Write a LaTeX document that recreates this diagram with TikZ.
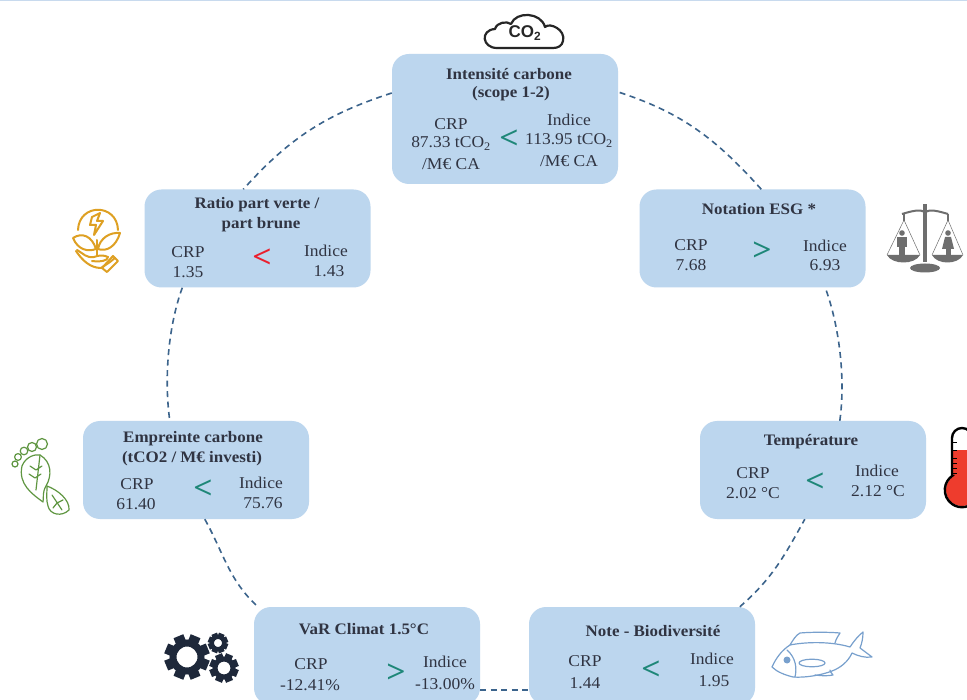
\documentclass[tikz,border=0pt]{standalone}
\usepackage{fontspec}
\setmainfont[FakeStretch=1.06]{Liberation Serif}
\setsansfont{Liberation Sans}
\definecolor{boxblue}{RGB}{188,214,238}
\definecolor{ringblue}{RGB}{60,100,140}
\definecolor{inkc}{RGB}{48,52,66}
\definecolor{tealc}{RGB}{30,135,120}
\definecolor{redc}{RGB}{235,30,45}
\definecolor{orangec}{RGB}{222,160,35}
\definecolor{greenc}{RGB}{95,150,65}
\definecolor{greyc}{RGB}{110,110,110}
\definecolor{fishc}{RGB}{120,160,205}
\definecolor{topc}{RGB}{200,218,238}
\definecolor{thermoc}{RGB}{238,60,45}
\definecolor{gearc}{RGB}{30,40,58}
\newcommand{\mygear}[5]{%
  \draw[line width=#4pt,fill=none] (#1,#2) circle[radius=#3];
  \foreach \a in {0,45,...,315}{
    \fill[shift={(#1,#2)},rotate=\a+22.5] (-#4pt*0.75,-#3pt-#4pt*0.5-#5pt) rectangle (#4pt*0.75,-#3pt);
  }}
\tikzset{
  x=1pt,y=-1pt,
  cardbox/.style={fill=boxblue,draw=none,rounded corners=17pt,minimum width=226pt,minimum height=98pt,inner sep=0pt},
  cardtxt/.style={text=inkc,font=\fontsize{16.5}{18}\selectfont,inner sep=0pt,yshift=-.8pt},
  cardhead/.style={text=inkc,font=\fontsize{16}{18}\selectfont\bfseries,inner sep=0pt,yshift=-.8pt},
  cmpmark/.style={font=\fontsize{32}{32}\selectfont\bfseries,inner sep=0pt},
  ringline/.style={draw=ringblue,line width=1.6pt,dash pattern=on 6pt off 4.5pt},
}
\begin{document}
\begin{tikzpicture}
\useasboundingbox (0,0) rectangle (967,700);
\begin{scope}
\clip (0,0) rectangle (967,700);
\fill[white] (0,0) rectangle (967,700);
\fill[topc] (0,0) rectangle (967,1.5);

% boxes
\node[cardbox,minimum height=130pt] (top) at (505,119) {};
\node[cardbox] (ratio) at (257.5,238.5) {};
\node[cardbox] (esg) at (752.5,238.5) {};
\node[cardbox] (emp) at (196,470) {};
\node[cardbox] (tmp) at (813,470) {};
\node[cardbox] (var) at (367,656) {};
\node[cardbox] (bio) at (642,656) {};

% connectors
\draw[ringline] ([yshift=26pt]top.west) to[out=198,in=48] ([xshift=99pt]ratio.north west);
\draw[ringline] ([xshift=38pt]ratio.south west) to[out=250,in=98,looseness=.8] ([xshift=87pt]emp.north west);
\draw[ringline] ([xshift=122pt]emp.south west) to[out=299,in=137] ([xshift=4pt]var.north west);
\draw[ringline] ([yshift=-34pt]var.east) -- ([yshift=-34pt]bio.west);
\draw[ringline] ([xshift=211pt]bio.north west) to[out=41,in=241] ([xshift=105pt]tmp.south west);
\draw[ringline] ([xshift=140pt]tmp.north west) to[out=82,in=290,looseness=.8] ([xshift=186pt]esg.south west);
\draw[ringline] ([xshift=122pt]esg.north west) to[out=132,in=342] ([yshift=27pt]top.east);

% top box text
\node[cardhead] (t1) at (509,73) {Intensité carbone};
\node[cardhead] (t2) at (511,93) {(scope 1-2)};
\node[cardtxt] (t3) at (451,123) {CRP};
\node[cardtxt] (t4) at (451,143) {87.33 tCO\textsubscript{2}};
\node[cardtxt] (t5) at (451,163) {/M€ CA};
\node[cmpmark,text=tealc] (t6) at (509,139) {<};
\node[cardtxt] (t7) at (569,119) {Indice};
\node[cardtxt] (t8) at (569,140) {113.95 tCO\textsubscript{2}};
\node[cardtxt] (t9) at (569,160) {/M€ CA};

% ratio
\node[cardhead] (r1) at (257,204) {Ratio part verte /};
\node[cardhead] (r2) at (261,224) {part brune};
\node[cardtxt] (r3) at (188,251) {CRP};
\node[cardtxt] (r4) at (188,271) {1.35};
\node[cmpmark,text=redc] (r5) at (262,258) {<};
\node[cardtxt] (r6) at (326,250) {Indice};
\node[cardtxt] (r7) at (329,270) {1.43};

% empreinte
\node[cardhead] (e1) at (193,438) {Empreinte carbone};
\node[cardhead] (e2) at (192,458) {(tCO2 / M€ investi)};
\node[cardtxt] (e3) at (137,483) {CRP};
\node[cardtxt] (e4) at (136,503) {61.40};
\node[cmpmark,text=tealc] (e5) at (203,489) {<};
\node[cardtxt] (e6) at (261,482) {Indice};
\node[cardtxt] (e7) at (263,502) {75.76};

% esg
\node[cardhead] (n1) at (759,208) {Notation ESG *};
\node[cardtxt] (n2) at (691,244) {CRP};
\node[cardtxt] (n3) at (691,264) {7.68};
\node[cmpmark,text=tealc] (n4) at (762,251) {>};
\node[cardtxt] (n5) at (825,245) {Indice};
\node[cardtxt] (n6) at (825,264) {6.93};

% temperature
\node[cardhead] (m1) at (811,441) {Température};
\node[cardtxt] (m2) at (753,472) {CRP};
\node[cardtxt] (m3) at (753,492) {2.02 °C};
\node[cmpmark,text=tealc] (m4) at (815,482) {<};
\node[cardtxt] (m5) at (877,470) {Indice};
\node[cardtxt] (m6) at (878,490) {2.12 °C};

% var
\node[cardhead] (v1) at (364,628) {VaR Climat 1.5°C};
\node[cardtxt] (v2) at (311,663) {CRP};
\node[cardtxt] (v3) at (310,684) {-12.41\%};
\node[cmpmark,text=tealc] (v4) at (396,673) {>};
\node[cardtxt] (v5) at (445,661) {Indice};
\node[cardtxt] (v6) at (445,683) {-13.00\%};

% bio
\node[cardhead] (b1) at (653,630) {Note - Biodiversité};
\node[cardtxt] (b2) at (585,660) {CRP};
\node[cardtxt] (b3) at (585,682) {1.44};
\node[cmpmark,text=tealc] (b4) at (651,670) {<};
\node[cardtxt] (b5) at (712,658) {Indice};
\node[cardtxt] (b6) at (714,680) {1.95};

% cloud icon
\draw[line width=2.2pt,black!85,line join=round]
  (497,48) .. controls (482,48) and (480,30) .. (495,29)
  .. controls (497,22) and (507,21) .. (511,24)
  .. controls (516,11) and (541,12) .. (545,27)
  .. controls (550,22) and (566,30) .. (563,41)
  .. controls (562,46) and (558,48) .. (553,48) -- cycle;
\node[inner sep=0pt,font=\sffamily\bfseries\fontsize{17}{17}\selectfont,text=black!85] (co2) at (525,33) {CO\textsubscript{2}};

% plant icon
\begin{scope}[draw=orangec,line width=2pt,line join=round,line cap=round]
\draw (78,230) .. controls (79,203) and (117,203) .. (118,230);
\draw (92,217) -- (100,213) -- (97,221) -- (103,221) -- (94,235) -- (96,225) -- (90,225) -- cycle;
\draw (97,240) -- (97,256);
\draw (96,249) .. controls (92,236) and (82,232) .. (73,238) .. controls (78,250) and (88,252) .. (96,249) -- cycle;
\draw (98,249) .. controls (100,238) and (110,232) .. (120,233) .. controls (116,247) and (106,252) .. (98,249) -- cycle;
\draw (77,250) .. controls (84,254) and (86,258) .. (94,257) .. controls (99,255) and (104,255) .. (108,257)
   .. controls (108,261) and (100,262) .. (92,261);
\draw (76,251) .. controls (82,260) and (90,268) .. (101,268) -- (110,262) -- (115,258);
\draw (113,256) -- (118,261) -- (107,272) -- (102,268) -- cycle;
\end{scope}

% scales icon
\begin{scope}[greyc]
\fill (923,204) rectangle (927,262);
\fill (925,268) ellipse[x radius=15,y radius=4.5];
\draw[line width=2pt] (902,214) .. controls (912,211) and (920,209) .. (925,212) .. controls (930,209) and (938,211) .. (948,214);
\fill (903,214) rectangle (905,221);
\fill (947,214) rectangle (949,221);
\fill (887,255) .. controls (892,265) and (915,265) .. (920,255) -- cycle;
\fill (932,255) .. controls (937,265) and (958,265) .. (963,255) -- cycle;
\draw[line width=.5pt] (904,220) -- (887,255) (904,220) -- (920,255) (948,220) -- (932,255) (948,220) -- (963,255);
\fill (902,233) circle[radius=2.8];
\fill (897,237) rectangle (907,247);
\fill (899,247) rectangle (905,255);
\fill (948,233) circle[radius=2.8];
\fill (945,237) -- (951,237) -- (954,249) -- (942,249) -- cycle;
\fill (945.5,249) rectangle (950.5,255);
\end{scope}

% thermometer icon
\fill[thermoc] (953,450) rectangle (975,490);
\fill[thermoc] (962,490) circle[radius=16];
\draw[black,line width=2.4pt] (952,476) -- (952,438) arc[start angle=180,end angle=360,radius=10] -- (972,476)
  arc[start angle=-54.5,end angle=234.5,radius=17.2] -- cycle;
\foreach \yy in {443,451,459,464,469,474}{\draw[black,line width=1pt] (952,\yy) -- (957,\yy);}

% footprint icon
\begin{scope}[draw=greenc,line width=1.2pt,line join=round,line cap=round]
\draw (42,444) circle[radius=5.5];
\draw (32,447) circle[radius=4.5];
\draw (24,451) circle[radius=3.8];
\draw (18,457) circle[radius=3.4];
\draw (15,464) circle[radius=3];
\draw (22,466) .. controls (26,456) and (36,454) .. (40,455) .. controls (52,462) and (52,476) .. (46,486)
   .. controls (42,493) and (44,497) .. (43,502) .. controls (32,494) and (18,484) .. (22,466) -- cycle;
\draw (40,455) -- (36,490) (36,470) -- (30,466) (36,470) -- (42,466) (35,478) -- (29,474) (35,478) -- (41,474);
\draw (47,486) .. controls (58,490) and (70,500) .. (69,510) .. controls (62,517) and (50,515) .. (48,506) .. controls (46,500) and (47,494) .. (47,486) -- cycle;
\draw (52,495) -- (62,510) (57,503) -- (63,500) (57,503) -- (53,508);
\end{scope}

% gears icon
\begin{scope}[gearc,draw=gearc,fill=gearc]
\mygear{187}{657}{14}{7}{5}
\mygear{218}{643}{6}{4}{2}
\mygear{224}{668}{9}{5}{3}
\end{scope}

% fish icon
\begin{scope}[draw=fishc,line width=1.2pt,line join=round,line cap=round]
\draw (772,667) .. controls (776,658) and (782,650) .. (790,645) .. controls (805,642) and (830,641) .. (850,647)
  .. controls (854,641) and (858,636) .. (863,632) .. controls (863,638) and (862,643) .. (860,648)
  .. controls (864,651) and (868,654) .. (872,657) .. controls (865,658) and (858,656) .. (852,653)
  .. controls (848,662) and (840,668) .. (832,671) .. controls (822,675) and (805,678) .. (793,677)
  .. controls (785,675) and (777,672) .. (772,667) -- cycle;
\draw (790,645) .. controls (793,640) and (796,635) .. (800,633) .. controls (812,632) and (828,632) .. (840,633)
  .. controls (838,636) and (836,639) .. (835,643);
\draw (787,650) .. controls (796,658) and (797,668) .. (795,677);
\draw (812,663) ellipse[x radius=13,y radius=3.8];
\draw (815,675) .. controls (822,676) and (828,676) .. (833,675) .. controls (831,673) and (830,671) .. (830,670);
\fill[fishc] (787,660) circle[radius=3.5];
\end{scope}
\end{scope}
\end{tikzpicture}
\end{document}
